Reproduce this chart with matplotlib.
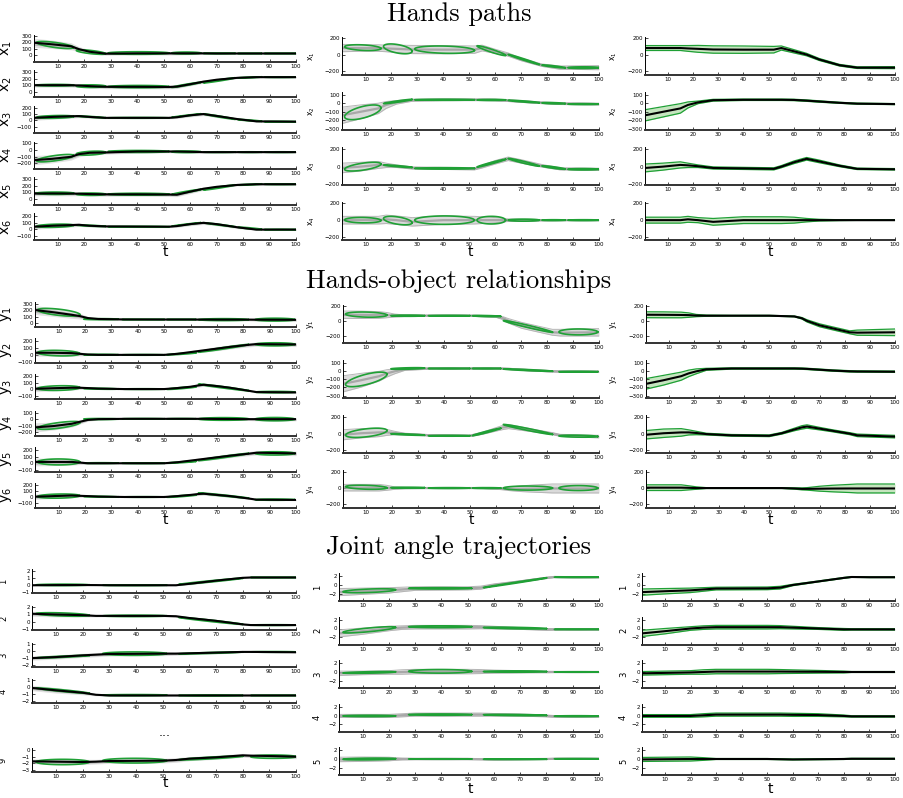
import numpy as np
import matplotlib
matplotlib.use('Agg')
import matplotlib.pyplot as plt

W, H = 904, 798

# ---------------- Hands paths ----------------
hp_t = [1, 8, 15, 18, 22, 28, 40, 52, 55, 60, 65, 70, 78, 85, 100]

hp_left_mean = [
    [195, 170, 140, 95, 55, 25, 30, 30, 30, 30, 30, 28, 28, 28, 28],
    [100, 100, 100, 95, 85, 75, 75, 72, 78, 115, 155, 185, 215, 225, 225],
    [40, 55, 65, 68, 55, 40, 40, 40, 50, 80, 100, 70, 20, -15, -20],
    [-150, -130, -100, -60, -40, -35, -20, -20, -20, -25, -30, -30, -30, -30, -30],
    [80, 82, 80, 78, 72, 68, 68, 65, 62, 110, 155, 185, 215, 225, 225],
    [40, 55, 65, 70, 55, 45, 42, 40, 50, 80, 100, 80, 30, -5, -5],
]
hp_left_spread = [
    [70, 65, 55, 40, 30, 25, 25, 25, 25, 20, 15, 12, 10, 10, 10],
    [30, 30, 30, 30, 30, 30, 30, 30, 30, 25, 25, 20, 12, 10, 10],
    [40, 35, 30, 25, 20, 15, 15, 15, 20, 25, 25, 25, 20, 10, 10],
    [70, 60, 50, 40, 30, 25, 25, 20, 20, 20, 15, 12, 10, 10, 10],
    [35, 35, 35, 30, 30, 30, 30, 30, 30, 30, 25, 20, 15, 10, 10],
    [40, 35, 30, 25, 20, 15, 15, 15, 20, 25, 25, 25, 20, 10, 10],
]
hp_left_ylim = [(-100, 320), (-90, 330), (-200, 225), (-280, 125), (-90, 330), (-170, 250)]
hp_left_ticks = [[0, 100, 200, 300], [0, 100, 200, 300], [-100, 0, 100, 200],
                 [-200, -100, 0, 100], [0, 100, 200, 300], [-100, 0, 100, 200]]

hp_ell_t = [9, 22.5, 40.5, 58.5, 71, 82.5, 94]
hp_ell_a = [7, 5.5, 11.5, 5.5, 6, 4.5, 6]
hp_left_ell_v = [[160, 50, 35, 35, 29, 28, 28], [100, 85, 78, 105, 175, 220, 225],
                 [55, 55, 40, 75, 60, 0, -20], [-120, -45, -20, -25, -30, -30, -30],
                 [85, 70, 70, 105, 175, 220, 225], [55, 55, 40, 75, 70, 15, -5]]
hp_left_ell_b = [[55, 35, 20, 15, 6, 5, 5], [12, 20, 18, 40, 40, 10, 5],
                 [22, 15, 6, 28, 42, 15, 5], [55, 30, 15, 12, 5, 5, 5],
                 [18, 18, 15, 40, 40, 10, 5], [25, 12, 6, 28, 32, 18, 5]]
hp_left_ell_r = [[-.7, -.7, 0, 0, 0, 0, 0], [0, 0, 0, .97, .97, .8, 0],
                 [.3, -.9, 0, .98, -.98, -.9, 0], [.7, .4, 0, 0, 0, 0, 0],
                 [0, 0, 0, .97, .97, .8, 0], [.3, -.8, 0, .98, -.98, -.9, 0]]

hp_mean = [
    [80, 80, 80, 75, 70, 62, 60, 60, 80, 40, 0, -60, -130, -160, -160],
    [-140, -100, -60, -20, 10, 35, 40, 40, 40, 38, 30, 20, 5, -5, -10],
    [-15, 0, 20, 15, 5, -15, -20, -25, 0, 50, 90, 60, 10, -25, -30],
    [0, 0, 0, 10, 0, -20, 0, 0, 0, 0, 0, 0, 0, 0, 0],
]
hp_band = [
    [30, 30, 30, 35, 42, 45, 45, 40, 25, 20, 15, 12, 10, 10, 12],
    [65, 60, 55, 35, 15, 10, 8, 8, 8, 8, 8, 8, 6, 6, 6],
    [45, 40, 35, 25, 15, 12, 12, 12, 12, 15, 15, 15, 10, 8, 8],
    [35, 35, 35, 35, 30, 40, 40, 40, 40, 35, 20, 10, 5, 3, 3],
]
hp_demo = [
    [45, 40, 40, 40, 45, 50, 50, 45, 35, 25, 20, 15, 15, 20, 25],
    [95, 80, 60, 40, 20, 12, 10, 10, 10, 10, 10, 10, 10, 10, 10],
    [55, 50, 40, 25, 15, 12, 12, 12, 15, 20, 20, 20, 15, 12, 12],
    [45, 45, 45, 50, 50, 50, 50, 45, 40, 30, 15, 10, 8, 5, 5],
]
hp_ell_v = [[85, 70, 60, 48, -60, -145, -160], [-105, 20, 40, 38, 20, 0, -10],
            [0, 5, -20, 40, 50, -10, -30], [0, -5, 0, 0, 0, 0, 0]]
hp_ell_b = [[35, 60, 45, 60, 62, 18, 10], [85, 25, 6, 6, 15, 8, 5],
            [50, 15, 8, 45, 45, 20, 8], [32, 50, 50, 45, 12, 5, 5]]
hp_ell_r = [[-.3, -.5, -.2, -.95, -.99, -.9, 0], [.6, .95, 0, 0, -.9, -.5, 0],
            [.6, -.9, 0, .98, -.97, -.9, 0], [-.1, -.5, 0, 0, 0, 0, 0]]
hp_ylim = [(-250, 215), (-310, 130), (-210, 225), (-235, 215)]
hp_ticks = [[-200, 0, 200], [-300, -200, -100, 0, 100], [-200, 0, 200], [-200, 0, 200]]

# ---------------- Hands-object relationships ----------------
ho_t = [1, 8, 15, 18, 21, 25, 35, 50, 55, 60, 63, 65, 70, 75, 82, 85, 100]

ho_left_mean = [
    [205, 170, 130, 110, 80, 65, 58, 57, 57, 57, 56, 56, 55, 55, 55, 54, 52],
    [30, 30, 25, 15, 5, 0, 0, 0, 15, 40, 55, 65, 90, 115, 145, 155, 150],
    [10, 18, 25, 25, 20, 12, 5, 5, 20, 40, 60, 70, 50, 25, -20, -40, -45],
    [-125, -105, -70, -40, -12, 0, 5, 5, 5, 5, 5, 5, 3, 2, 0, 0, 0],
    [20, 20, 20, 10, 0, 0, 0, 0, 15, 40, 55, 65, 90, 115, 145, 160, 150],
    [10, 20, 30, 25, 20, 12, 5, 5, 20, 40, 55, 60, 40, 20, -20, -40, -45],
]
ho_left_spread = [
    [70, 65, 55, 45, 25, 15, 12, 12, 12, 12, 15, 15, 20, 20, 20, 25, 25],
    [50, 50, 45, 30, 15, 10, 10, 10, 15, 20, 25, 25, 30, 30, 30, 30, 30],
    [45, 40, 35, 25, 15, 12, 10, 10, 15, 20, 25, 25, 25, 20, 15, 12, 12],
    [70, 60, 50, 35, 20, 12, 10, 10, 10, 10, 15, 15, 20, 20, 20, 25, 25],
    [60, 55, 50, 30, 15, 10, 10, 10, 15, 20, 25, 25, 30, 30, 30, 35, 35],
    [45, 40, 35, 25, 15, 12, 10, 10, 15, 20, 25, 25, 25, 20, 15, 12, 12],
]
ho_left_ylim = [(-60, 330), (-120, 240), (-150, 225), (-250, 130), (-130, 250), (-180, 240)]
ho_left_ticks = [[0, 100, 200, 300], [-100, 0, 100, 200], [-100, 0, 100, 200],
                 [-200, -100, 0, 100], [-100, 0, 100, 200], [-100, 0, 100, 200]]

ho_ell_t = [10, 26, 42, 56.5, 72.5, 92]
ho_ell_a = [8, 6.5, 8, 5.5, 9.5, 7.5]
ho_left_ell_v = [[170, 62, 57, 57, 55, 55], [25, 2, 0, 15, 95, 152], [20, 10, 5, 20, 30, -40],
                 [-95, 2, 5, 5, 3, 0], [20, 2, 0, 15, 95, 150], [20, 10, 5, 20, 30, -40]]
ho_left_ell_b = [[60, 8, 5, 5, 15, 22], [40, 6, 5, 15, 55, 22], [35, 8, 5, 20, 50, 10],
                 [60, 8, 5, 5, 20, 25], [45, 6, 5, 15, 55, 25], [35, 8, 5, 20, 45, 10]]
ho_left_ell_r = [[-.6, 0, 0, 0, 0, 0], [-.2, 0, 0, .9, .98, 0], [.2, -.5, 0, .9, -.98, 0],
                 [.7, 0, 0, 0, 0, 0], [0, 0, 0, .9, .98, 0], [.2, -.5, 0, .9, -.98, 0]]

ho_mean = [
    [83, 82, 80, 78, 72, 70, 70, 70, 65, 60, 35, 0, -60, -100, -155, -160, -155],
    [-155, -110, -60, -25, 0, 25, 35, 35, 35, 35, 33, 30, 20, 10, 0, -2, -5],
    [-13, 5, 15, 15, 8, -5, -20, -25, 5, 50, 75, 85, 60, 35, 0, -20, -35],
    [5, 5, 5, 3, 0, 0, 0, 0, 0, -5, -10, -10, -8, -6, -5, -5, -5],
]
ho_band = [
    [40, 40, 38, 30, 15, 8, 5, 5, 5, 5, 10, 15, 20, 20, 20, 35, 45],
    [65, 60, 50, 40, 30, 12, 8, 8, 8, 8, 8, 8, 8, 8, 8, 8, 8],
    [50, 50, 45, 30, 20, 10, 10, 10, 10, 15, 20, 20, 15, 12, 12, 15, 15],
    [35, 35, 35, 25, 15, 5, 5, 5, 5, 8, 12, 15, 30, 40, 50, 55, 55],
]
ho_demo = [
    [50, 50, 45, 35, 20, 10, 8, 8, 8, 10, 20, 30, 40, 40, 40, 45, 50],
    [100, 85, 60, 45, 30, 12, 8, 8, 8, 8, 8, 8, 8, 8, 8, 8, 8],
    [60, 55, 50, 35, 20, 10, 8, 8, 12, 20, 25, 25, 20, 15, 12, 12, 15],
    [40, 40, 40, 30, 15, 8, 5, 5, 5, 8, 12, 20, 35, 45, 55, 55, 55],
]
ho_ell_v = [[85, 70, 70, 65, -75, -150], [-100, 35, 35, 35, 15, -5],
            [10, -10, -25, 20, 50, -30], [10, 5, 0, 0, 0, 0]]
ho_ell_b = [[35, 8, 5, 8, 80, 40], [90, 10, 5, 5, 15, 5],
            [55, 10, 5, 45, 60, 12], [25, 5, 5, 5, 25, 30]]
ho_ell_r = [[-.2, 0, 0, -.5, -.98, 0], [.7, .5, 0, 0, -.9, 0],
            [.5, -.8, 0, .98, -.98, -.3], [-.3, 0, 0, 0, 0, 0]]
ho_ylim = [(-300, 215), (-330, 140), (-230, 222), (-245, 222)]
ho_ticks = [[-200, 0, 200], [-300, -200, -100, 0, 100], [-200, 0, 200], [-200, 0, 200]]

# ---------------- Joint angle trajectories ----------------
ja_t = [1, 10, 20, 25, 30, 50, 55, 60, 70, 80, 83, 90, 100]
ja_left_names = ['1', '2', '3', '4', '9']
ja_left_mean = [
    [0, 0.02, 0.03, 0.02, 0, 0, 0, 0.2, 0.65, 1.05, 1.1, 1.1, 1.1],
    [1.1, 1.0, 0.9, 0.8, 0.8, 0.8, 0.75, 0.5, 0.1, -0.4, -0.5, -0.5, -0.5],
    [-1.0, -0.85, -0.6, -0.5, -0.4, -0.35, -0.35, -0.3, -0.2, -0.1, -0.1, -0.12, -0.15],
    [-0.1, -0.45, -0.8, -1.1, -1.2, -1.2, -1.2, -1.2, -1.2, -1.2, -1.2, -1.2, -1.2],
    [-1.7, -1.75, -1.8, -1.75, -1.65, -1.6, -1.5, -1.3, -1.1, -0.8, -0.85, -0.9, -1.0],
]
ja_left_spread = [
    [0.1, 0.1, 0.1, 0.08, 0.08, 0.08, 0.1, 0.15, 0.15, 0.1, 0.08, 0.08, 0.08],
    [0.35, 0.35, 0.25, 0.15, 0.12, 0.12, 0.15, 0.2, 0.2, 0.15, 0.1, 0.1, 0.1],
    [0.3, 0.3, 0.3, 0.3, 0.3, 0.3, 0.25, 0.2, 0.2, 0.1, 0.1, 0.08, 0.08],
    [0.4, 0.4, 0.3, 0.15, 0.1, 0.1, 0.1, 0.1, 0.1, 0.1, 0.1, 0.1, 0.1],
    [0.35, 0.4, 0.4, 0.35, 0.35, 0.35, 0.35, 0.3, 0.3, 0.3, 0.3, 0.3, 0.3],
]
ja_left_ylim = [(-1.1, 2.3), (-1.2, 2.2), (-2.3, 1.2), (-2.3, 1.2), (-3.3, 0.3)]
ja_left_ticks = [[-1, 0, 1, 2], [-1, 0, 1, 2], [-2, -1, 0, 1], [-2, -1, 0, 1], [-3, -2, -1, 0]]

ja_ell_t = [12.5, 39.5, 68, 91.5]
ja_ell_a = [10, 12, 12, 8.5]
ja_left_ell_v = [[0.05, 0, 0.55, 1.1], [1.0, 0.8, 0.1, -0.5], [-0.8, -0.35, -0.25, -0.1],
                 [-0.5, -1.15, -1.2, -1.2], [-1.8, -1.6, -1.2, -1.0]]
ja_left_ell_b = [[0.1, 0.05, 0.45, 0.05], [0.25, 0.1, 0.5, 0.05], [0.2, 0.25, 0.15, 0.05],
                 [0.4, 0.08, 0.08, 0.05], [0.4, 0.35, 0.3, 0.25]]
ja_left_ell_r = [[0, 0, .98, 0], [-.5, 0, -.98, 0], [.9, 0, .9, 0], [-.95, 0, 0, 0], [0, 0, .9, 0]]

ja_mean = [
    [-1.6, -1.4, -1.2, -1.0, -0.8, -0.75, -0.6, 0, 0.8, 1.6, 1.8, 1.75, 1.75],
    [-1.1, -0.6, 0, 0.2, 0.3, 0.3, 0.3, 0.2, 0, -0.2, -0.2, -0.2, -0.2],
    [-0.3, -0.2, -0.1, 0, 0.1, 0.1, 0.1, 0.08, 0.05, 0, 0, 0, 0],
    [-0.1, -0.1, -0.1, 0.05, 0.2, 0.2, 0.2, 0.15, 0.1, -0.1, -0.2, -0.2, -0.2],
    [-0.1, -0.05, 0, 0, 0, 0, -0.05, -0.1, -0.05, 0, 0.05, 0.05, 0.05],
]
ja_band = [
    [0.7, 0.6, 0.5, 0.4, 0.3, 0.3, 0.3, 0.15, 0.1, 0.1, 0.08, 0.08, 0.08],
    [0.7, 0.6, 0.4, 0.4, 0.4, 0.4, 0.35, 0.3, 0.2, 0.2, 0.15, 0.15, 0.15],
    [0.4, 0.4, 0.4, 0.5, 0.5, 0.5, 0.45, 0.4, 0.3, 0.2, 0.1, 0.1, 0.1],
    [0.3, 0.3, 0.3, 0.35, 0.35, 0.35, 0.35, 0.35, 0.3, 0.2, 0.15, 0.15, 0.15],
    [0.45, 0.45, 0.45, 0.3, 0.1, 0.1, 0.1, 0.1, 0.1, 0.1, 0.1, 0.1, 0.1],
]
ja_demo = [
    [0.8, 0.7, 0.6, 0.5, 0.4, 0.35, 0.35, 0.25, 0.15, 0.15, 0.12, 0.12, 0.12],
    [0.8, 0.7, 0.5, 0.4, 0.4, 0.4, 0.35, 0.3, 0.2, 0.2, 0.15, 0.15, 0.15],
    [0.5, 0.4, 0.4, 0.5, 0.5, 0.5, 0.45, 0.35, 0.25, 0.15, 0.12, 0.12, 0.12],
    [0.35, 0.35, 0.35, 0.35, 0.35, 0.35, 0.35, 0.3, 0.25, 0.2, 0.2, 0.2, 0.2],
    [0.5, 0.5, 0.4, 0.2, 0.15, 0.15, 0.12, 0.12, 0.1, 0.1, 0.1, 0.1, 0.1],
]
ja_ell_v = [[-1.3, -0.75, 0.5, 1.75], [-0.3, 0.4, 0.1, -0.2], [-0.1, 0.15, 0.1, 0],
            [-0.1, 0.2, 0.1, -0.15], [0, 0, -0.05, 0.05]]
ja_ell_b = [[0.45, 0.15, 1.1, 0.06], [0.7, 0.2, 0.2, 0.06], [0.2, 0.4, 0.15, 0.05],
            [0.15, 0.15, 0.15, 0.1], [0.2, 0.05, 0.07, 0.05]]
ja_ell_r = [[.5, 0, .995, 0], [.8, 0, -.6, 0], [.6, 0, 0, 0], [0, 0, -.5, 0], [.3, 0, 0, 0]]
ja_ylim = (-3.6, 2.7)
ja_ticks = [-2, 0, 2]

GREEN = '#1fa035'
LGREEN = '#c6e5bf'
RIGHT_END = 895

fig = plt.figure(figsize=(W / 100, H / 100), dpi=100)


def new_ax(x0, x1, ybot, h):
    ax = fig.add_axes([x0 / W, 1 - ybot / H, (x1 - x0) / W, h / H])
    ax.set_xlim(1, 100)
    ax.set_xticks(range(10, 101, 10))
    for s in ['top', 'right']:
        ax.spines[s].set_visible(False)
    ax.spines['bottom'].set_linewidth(1.4)
    ax.spines['bottom'].set_color('#333333')
    ax.spines['left'].set_linewidth(0.7)
    ax.tick_params(direction='in', length=2, width=0.5, labelsize=4, pad=1.5)
    return ax


def ellipse(ax, ct, cv, a, b, rho, lw=1.2):
    th = np.linspace(0, 2 * np.pi, 120)
    tt = ct + a * np.cos(th)
    vv = cv + b * (rho * np.cos(th) + np.sqrt(1 - rho ** 2) * np.sin(th))
    ax.plot(tt, vv, color=GREEN, lw=lw, zorder=4)


def left_panel(ax, t, mean, spread, ec, ea, ev, eb, er):
    m = np.array(mean)
    s = np.array(spread)
    ax.fill_between(t, m - s, m + s, color='#e2e2e2', lw=0, zorder=1)
    ax.fill_between(t, m - 0.55 * s, m + 0.55 * s, color='#b8b8b8', lw=0, zorder=2)
    for i in range(len(ec)):
        ellipse(ax, ec[i], ev[i], ea[i], eb[i], er[i])
    ax.plot(t, m, color='black', lw=1.5, zorder=5)


def mid_panel(ax, t, mean, demo, ec, ea, ev, eb, er):
    m = np.array(mean)
    s = np.array(demo)
    ax.fill_between(t, m - s, m + s, color='#dadada', lw=0, zorder=1)
    ax.plot(t, m - s, color='#b5b5b5', lw=0.7, zorder=2)
    ax.plot(t, m + s, color='#b5b5b5', lw=0.7, zorder=2)
    ax.plot(t, m, color='#a8a8a8', lw=1.6, zorder=2)
    for i in range(len(ec)):
        ellipse(ax, ec[i], ev[i], ea[i], eb[i], er[i])


def right_panel(ax, t, mean, band):
    m = np.array(mean)
    s = np.array(band)
    ax.fill_between(t, m - s, m + s, color=LGREEN, lw=0, zorder=1)
    ax.plot(t, m - s, color=GREEN, lw=0.9, zorder=2)
    ax.plot(t, m + s, color=GREEN, lw=0.9, zorder=2)
    ax.plot(t, m, color='black', lw=1.5, zorder=3)


def set_ylab(ax, text, x_px, x0, x1, size):
    ax.set_ylabel(text, fontsize=size, rotation=90)
    ax.yaxis.set_label_coords((x_px - x0) / (x1 - x0), 0.5)


def t_label(x, y):
    fig.text(x / W, 1 - y / H, 't', fontsize=10, ha='center', va='center')


def title(y, text):
    fig.text(459 / W, 1 - y / H, text, fontsize=19, family='cmr10', ha='center', va='center')


# ---- section 1 ----
title(14, 'Hands paths')
for i in range(6):
    ax = new_ax(34, 296, 61.7 + 35.7 * i, 27)
    left_panel(ax, hp_t, hp_left_mean[i], hp_left_spread[i], hp_ell_t, hp_ell_a,
               hp_left_ell_v[i], hp_left_ell_b[i], hp_left_ell_r[i])
    ax.set_ylim(hp_left_ylim[i])
    ax.set_yticks(hp_left_ticks[i])
    set_ylab(ax, 'x$_%d$' % (i + 1), 14, 34, 296, 10)
t_label(165, 252)
for i in range(4):
    yb = 75 + 55 * i
    ax = new_ax(342, 599, yb, 38)
    mid_panel(ax, hp_t, hp_mean[i], hp_demo[i], hp_ell_t, hp_ell_a,
              hp_ell_v[i], hp_ell_b[i], hp_ell_r[i])
    ax.set_ylim(hp_ylim[i])
    ax.set_yticks(hp_ticks[i])
    set_ylab(ax, 'x$_%d$' % (i + 1), 317, 342, 599, 5.5)
    ax = new_ax(645, RIGHT_END, yb, 38)
    right_panel(ax, hp_t, hp_mean[i], hp_band[i])
    ax.set_ylim(hp_ylim[i])
    ax.set_yticks(hp_ticks[i])
    set_ylab(ax, 'x$_%d$' % (i + 1), 619, 645, RIGHT_END, 5.5)
t_label(470, 252)
t_label(770, 252)

# ---- section 2 ----
title(281, 'Hands-object relationships')
for i in range(6):
    ax = new_ax(35, 296, 327 + 36.2 * i, 25)
    left_panel(ax, ho_t, ho_left_mean[i], ho_left_spread[i], ho_ell_t, ho_ell_a,
               ho_left_ell_v[i], ho_left_ell_b[i], ho_left_ell_r[i])
    ax.set_ylim(ho_left_ylim[i])
    ax.set_yticks(ho_left_ticks[i])
    set_ylab(ax, 'y$_%d$' % (i + 1), 14, 35, 296, 10)
t_label(165, 520)
for i in range(4):
    yb = 343 + 55 * i
    ax = new_ax(343, 599, yb, 38)
    mid_panel(ax, ho_t, ho_mean[i], ho_demo[i], ho_ell_t, ho_ell_a,
              ho_ell_v[i], ho_ell_b[i], ho_ell_r[i])
    ax.set_ylim(ho_ylim[i])
    ax.set_yticks(ho_ticks[i])
    set_ylab(ax, 'y$_%d$' % (i + 1), 316, 343, 599, 5.5)
    ax = new_ax(646, RIGHT_END, yb, 38)
    right_panel(ax, ho_t, ho_mean[i], ho_band[i])
    ax.set_ylim(ho_ylim[i])
    ax.set_yticks(ho_ticks[i])
    set_ylab(ax, 'y$_%d$' % (i + 1), 619, 646, RIGHT_END, 5.5)
t_label(471, 520)
t_label(770, 520)

# ---- section 3 ----
title(547, 'Joint angle trajectories')
left_bottoms = [593, 630, 667, 703, 772]
for i in range(5):
    ax = new_ax(32, 296, left_bottoms[i], 24)
    left_panel(ax, ja_t, ja_left_mean[i], ja_left_spread[i], ja_ell_t, ja_ell_a,
               ja_left_ell_v[i], ja_left_ell_b[i], ja_left_ell_r[i])
    ax.set_ylim(ja_left_ylim[i])
    ax.set_yticks(ja_left_ticks[i])
    set_ylab(ax, ja_left_names[i], 8, 32, 296, 6)
fig.text(165 / W, 1 - 733 / H, '...', fontsize=9, ha='center', va='center')
t_label(165, 783)
for i in range(5):
    yb = 601 + 43.5 * i
    ax = new_ax(339, 599, yb, 28)
    mid_panel(ax, ja_t, ja_mean[i], ja_demo[i], ja_ell_t, ja_ell_a,
              ja_ell_v[i], ja_ell_b[i], ja_ell_r[i])
    ax.set_ylim(ja_ylim)
    ax.set_yticks(ja_ticks)
    set_ylab(ax, str(i + 1), 322, 339, 599, 6)
    ax = new_ax(642, RIGHT_END, yb, 28)
    right_panel(ax, ja_t, ja_mean[i], ja_band[i])
    ax.set_ylim(ja_ylim)
    ax.set_yticks(ja_ticks)
    set_ylab(ax, str(i + 1), 628, 642, RIGHT_END, 6)
t_label(470, 789)
t_label(770, 789)

fig.savefig('out.png', dpi=100)
